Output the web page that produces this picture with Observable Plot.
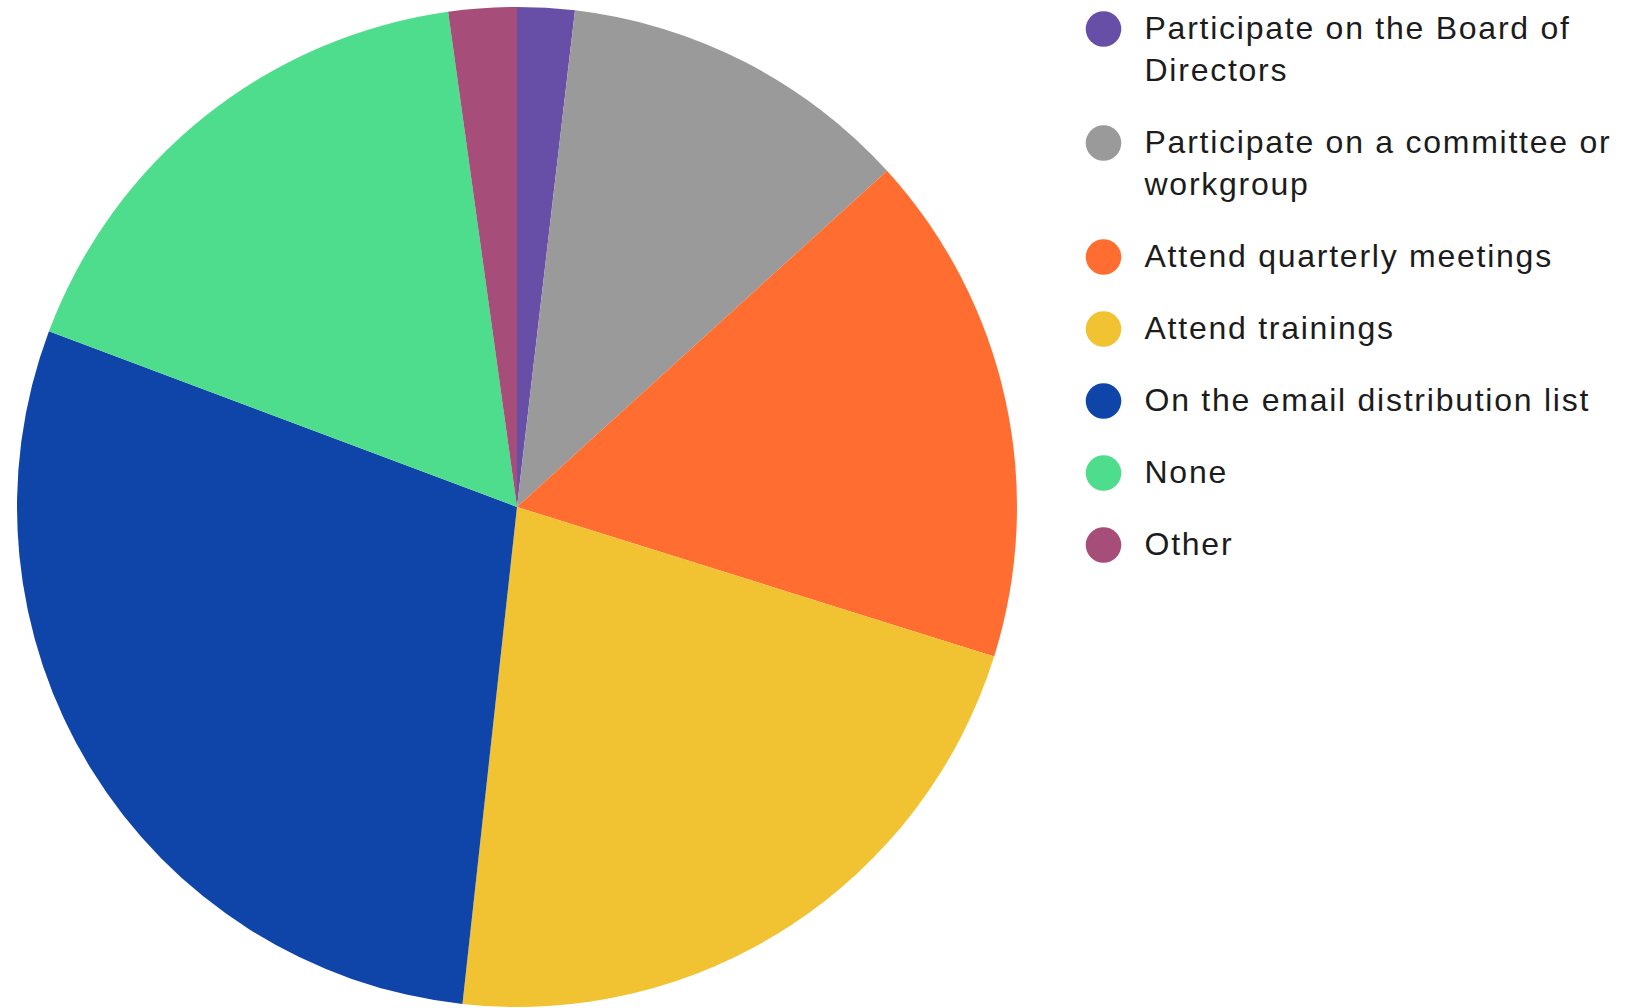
<!DOCTYPE html>
<html>
<head>
<meta charset="utf-8">
<script src="https://cdn.jsdelivr.net/npm/d3@7"></script>
<script src="https://cdn.jsdelivr.net/npm/@observablehq/plot@0.6"></script>
<style>
  html, body { margin: 0; padding: 0; background: #ffffff; }
  #chart svg { display: block; }
</style>
</head>
<body>
<div id="chart"></div>
<script>
// ---- data ----
const categories = [
  "Participate on the Board of Directors",
  "Participate on a committee or workgroup",
  "Attend quarterly meetings",
  "Attend trainings",
  "On the email distribution list",
  "None",
  "Other"
];
const shares = [1.85, 11.41, 16.57, 21.91, 28.98, 17.08, 2.20]; // percent of responses
const colors = ["#674ea7", "#9a9a9a", "#ff6d31", "#f1c232", "#0f45a8", "#4edd8c", "#a64d79"];

// ---- layout ----
const W = 1645, H = 1008;
const cx = 517, cy = 507, R = 500;
const legendDotX = 1103, legendTextX = 1144, legendTop = 28.5;
const rowGap = 72, lineGap = 42, wrapWidth = 500;
const fontSize = 32, letterSpacing = 1.75;
const fontFamily = "'Liberation Sans', Arial, sans-serif";

const rows = categories.map((c, i) => ({category: c, share: shares[i]}));

// wrap legend labels by measured width
const ctx = document.createElement("canvas").getContext("2d");
ctx.font = `${fontSize}px ${fontFamily}`;
const measure = s => ctx.measureText(s).width + letterSpacing * (s.length - 1);
function wrap(s) {
  const words = s.split(" ");
  const lines = [];
  let cur = "";
  for (const w of words) {
    const t = cur ? cur + " " + w : w;
    if (cur && measure(t) > wrapWidth) { lines.push(cur); cur = w; }
    else cur = t;
  }
  if (cur) lines.push(cur);
  return lines;
}

const legendDots = [];
const legendLines = [];
let yPos = legendTop;
rows.forEach(r => {
  const lines = wrap(r.category);
  legendDots.push({category: r.category, y: yPos});
  lines.forEach((l, k) => legendLines.push({category: r.category, text: l, y: yPos + k * lineGap}));
  yPos += rowGap + (lines.length - 1) * lineGap;
});

// pie mark rendered with the plot's color scale
function pieMark(index, scales) {
  const color = scales && scales.color ? scales.color : (c => colors[categories.indexOf(c)]);
  const X = scales && scales.x ? scales.x : (v => v);
  const Y = scales && scales.y ? scales.y : (v => v);
  const arcs = d3.pie().sort(null).value(d => d.share)(rows);
  const arc = d3.arc().innerRadius(0).outerRadius(R);
  const g = d3.create("svg:g").attr("transform", `translate(${X(cx)},${Y(cy)})`);
  g.selectAll("path").data(arcs).join("path")
    .attr("d", arc)
    .attr("fill", d => color(d.data.category));
  return g.node();
}

const chart = Plot.plot({
  width: W,
  height: H,
  margin: 0,
  x: {type: "identity", axis: null},
  y: {type: "identity", axis: null},
  color: {domain: categories, range: colors},
  style: {fontFamily, background: "#ffffff"},
  marks: [
    pieMark,
    Plot.dot(legendDots, {x: () => legendDotX, y: "y", r: 17.8, fill: "category", stroke: null}),
    Plot.text(legendLines, {
      x: () => legendTextX, y: "y", text: "text",
      textAnchor: "start", fontSize, fill: "#1c1c1c",
      lineAnchor: "middle"
    })
  ]
});
chart.querySelectorAll("text").forEach(t => {
  t.setAttribute("letter-spacing", letterSpacing);
  t.setAttribute("font-family", fontFamily);
});
document.getElementById("chart").appendChild(chart);
</script>
</body>
</html>
